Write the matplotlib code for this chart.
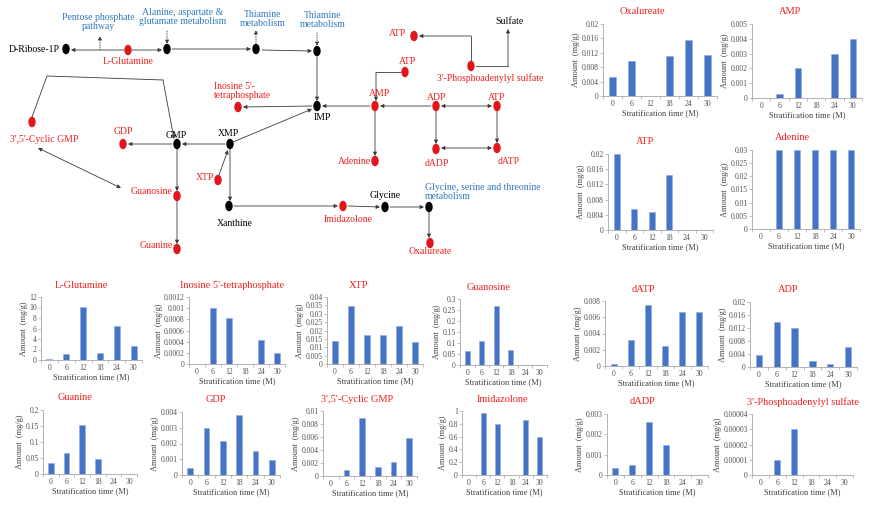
import numpy as np
import matplotlib.pyplot as plt
from matplotlib.patches import Ellipse

plt.rcParams['font.family'] = ['Liberation Serif', 'DejaVu Serif']

W, H = 874, 505

# stratification time (months)
times = ['0', '6', '12', '18', '24', '30']

# amounts (mg/g)
oxalureate = [0.0052, 0.0097, 0, 0.011, 0.0155, 0.0115]
amp = [0, 0.0003, 0.002, 0, 0.003, 0.004]
atp = [0.02, 0.0055, 0.0047, 0.0145, 0, 0]
adenine = [0, 0.03, 0.03, 0.03, 0.03, 0.03]
glutamine = [0.2, 1.2, 10.1, 1.4, 6.5, 2.6]
inosine_tp = [0, 0.001, 0.00082, 0, 0.00043, 0.0002]
xtp = [0.014, 0.0345, 0.0173, 0.0173, 0.0228, 0.0133]
guanosine = [0.062, 0.108, 0.268, 0.067, 0, 0]
datp = [0.0002, 0.0032, 0.0075, 0.0025, 0.0066, 0.0067]
adp = [0.0037, 0.0138, 0.0119, 0.0019, 0.0008, 0.0063]
guanine = [0.035, 0.066, 0.152, 0.047, 0, 0]
gdp = [0.00045, 0.003, 0.00215, 0.0038, 0.0015, 0.00095]
cyclic_gmp = [0, 0.001, 0.0089, 0.0014, 0.0022, 0.0059]
imidazolone = [0, 0.97, 0.79, 0, 0.86, 0.6]
dadp = [0.00033, 0.00047, 0.0026, 0.0015, 0.00002, 0]
paps = [0, 0.00001, 0.00003, 0, 0, 0]

# (title, values, y max, y step)
charts = [
    ("Oxalureate", oxalureate, 0.02, 0.004),
    ("AMP", amp, 0.005, 0.001),
    ("ATP", atp, 0.02, 0.004),
    ("Adenine", adenine, 0.03, 0.005),
    ("L-Glutamine", glutamine, 12, 2),
    ("Inosine 5'-tetraphosphate", inosine_tp, 0.0012, 0.0002),
    ("XTP", xtp, 0.04, 0.005),
    ("Guanosine", guanosine, 0.3, 0.05),
    ("dATP", datp, 0.008, 0.002),
    ("ADP", adp, 0.02, 0.004),
    ("Guanine", guanine, 0.2, 0.05),
    ("GDP", gdp, 0.004, 0.001),
    ("3',5'-Cyclic GMP", cyclic_gmp, 0.01, 0.002),
    ("Imidazolone", imidazolone, 1, 0.2),
    ("dADP", dadp, 0.003, 0.001),
    ("3'-Phosphoadenylyl sulfate", paps, 0.00004, 0.00001),
]

# axes boxes in pixels (left, top, right, bottom) and title centres
boxes = [
    (603, 24, 717, 96), (752, 24, 862, 98),
    (608, 154, 713, 230), (752, 150, 860, 229),
    (41, 297, 142, 360), (189, 297, 285, 364), (327, 297, 423, 364), (460, 299, 547, 365),
    (605, 301, 708, 366), (750, 302, 857, 367),
    (43, 410, 137, 474), (182, 412, 280, 475), (323, 411, 417, 476), (462, 411, 547, 475),
    (607, 414, 708, 475), (752, 414, 853, 475),
]
title_pos = [
    (642, 12), (790, 12), (645, 141), (792, 138),
    (81, 285), (232, 285), (358, 285), (489, 288), (643, 289), (788, 289),
    (75, 398), (216, 400), (357, 400), (502, 400), (643, 402), (803, 402),
]

RED = '#F01E1E'
NODE_RED = '#E3151B'
BLUE = '#2F78C0'
BAR = '#4472C4'
LINE = '#3A3A3A'


def fmt(v):
    return f"{v:.6f}".rstrip('0').rstrip('.')


fig = plt.figure(figsize=(W / 100, H / 100), dpi=100)

# ---- pathway diagram ----
dg = fig.add_axes([0, 0, 1, 1])
dg.set_xlim(0, W)
dg.set_ylim(H, 0)
dg.axis('off')


def arrow(p0, p1, style='-|>', ls='-'):
    dg.annotate('', xy=p1, xytext=p0,
                arrowprops=dict(arrowstyle=style, color=LINE, lw=0.6, linestyle=ls,
                                shrinkA=0, shrinkB=0, mutation_scale=5.5))


def line(*pts):
    xs, ys = zip(*pts)
    dg.plot(xs, ys, color=LINE, lw=0.6)


black_nodes = [(66, 49), (167, 49), (256, 49), (317, 51), (317, 106), (230, 144),
               (177, 144), (229, 206), (385, 207), (429, 207)]
red_nodes = [(128, 50), (238, 107), (123, 144), (32, 122), (177, 196), (177, 249),
             (218, 180), (343, 206), (430, 243), (375, 106), (405, 72), (436, 106),
             (497, 106), (436, 149), (497, 148), (375, 161), (471, 66), (414, 36)]
for x, y in black_nodes:
    dg.add_patch(Ellipse((x, y), 6, 9, color='black', zorder=3))
for x, y in red_nodes:
    dg.add_patch(Ellipse((x, y), 6, 9, color=NODE_RED, zorder=3))

labels = [
    ("D-Ribose-1P", 60, 50, 'black', 'right'),
    ("L-Glutamine", 128, 62, RED, 'center'),
    ("Pentose phosphate\npathway", 98, 22, BLUE, 'center'),
    ("Alanine, aspartate &\nglutamate metabolism", 183, 17, BLUE, 'center'),
    ("Thiamine\nmetabolism", 263, 19, BLUE, 'center'),
    ("Thiamine\nmetabolism", 323, 20, BLUE, 'center'),
    ("Inosine 5'-\ntetraphosphate", 214, 91, RED, 'left'),
    ("IMP", 322, 118, 'black', 'center'),
    ("XMP", 228, 133, 'black', 'center'),
    ("GMP", 176, 135, 'black', 'center'),
    ("GDP", 123, 132, RED, 'center'),
    ("3',5'-Cyclic GMP", 44, 139, RED, 'center'),
    ("XTP", 205, 177, RED, 'center'),
    ("Guanosine", 152, 191, RED, 'center'),
    ("Guanine", 156, 245, RED, 'center'),
    ("Xanthine", 235, 223, 'black', 'center'),
    ("Imidazolone", 348, 219, RED, 'center'),
    ("Glycine", 385, 196, 'black', 'center'),
    ("Glycine, serine and threonine\nmetabolism", 425, 192, BLUE, 'left'),
    ("Oxalureate", 430, 252, RED, 'center'),
    ("AMP", 380, 94, RED, 'center'),
    ("ATP", 408, 61, RED, 'center'),
    ("ADP", 437, 97, RED, 'center'),
    ("ATP", 497, 97, RED, 'center'),
    ("dADP", 437, 164, RED, 'center'),
    ("dATP", 509, 162, RED, 'center'),
    ("Adenine", 354, 162, RED, 'center'),
    ("3'-Phosphoadenylyl sulfate", 490, 78, RED, 'center'),
    ("ATP", 398, 34, RED, 'center'),
    ("Sulfate", 510, 22, 'black', 'center'),
]
for txt, x, y, c, ha in labels:
    dg.text(x, y, txt, color=c, ha=ha, va='center', fontsize=7, linespacing=1.0)

arrow((124, 50), (71, 50))
arrow((100, 50), (100, 36), ls=':')
arrow((132, 50), (162, 50))
arrow((167, 31), (167, 44), ls=':')
arrow((172, 49), (251, 49))
arrow((256, 44), (256, 30), ls=':')
arrow((262, 50), (312, 51))
arrow((317, 33), (317, 46), ls=':')
arrow((317, 56), (317, 101))
arrow((370, 106), (322, 106))
arrow((233, 142), (312, 109))
arrow((312, 106), (243, 107))
arrow((225, 144), (182, 144))
arrow((172, 144), (128, 144))
line((32, 117), (47, 76), (163, 80))
arrow((163, 80), (174, 139))
arrow((38, 148), (121, 188), style='<|-|>')
arrow((177, 149), (177, 191))
arrow((177, 201), (177, 244))
arrow((219, 175), (228, 150))
arrow((230, 149), (230, 201))
arrow((234, 206), (338, 206))
arrow((348, 206), (380, 207))
arrow((390, 207), (424, 207))
arrow((429, 212), (429, 238))
line((400, 72), (376, 72))
arrow((376, 72), (376, 101))
arrow((431, 106), (380, 106))
arrow((441, 106), (492, 106), style='<|-|>')
arrow((436, 111), (436, 144))
arrow((497, 111), (497, 143))
arrow((441, 148), (492, 148), style='<|-|>')
arrow((375, 111), (375, 156))
line((471, 61), (471, 36))
arrow((471, 36), (419, 36))
line((476, 66), (508, 66))
arrow((508, 66), (508, 29))

# ---- bar charts ----
x = np.arange(len(times))
for (title, vals, ymax, step), (l, t, r, b), (tx, ty) in zip(charts, boxes, title_pos):
    ax = fig.add_axes([l / W, 1 - b / H, (r - l) / W, (b - t) / H])
    ax.bar(x, vals, width=0.35, color=BAR, edgecolor='#8EA9DB', linewidth=0.4)
    ax.set_xlim(-0.5, len(times) - 0.5)
    ax.set_ylim(0, ymax)
    yt = np.arange(0, ymax + step / 2, step)
    ax.set_yticks(yt)
    ax.set_yticklabels([fmt(v) for v in yt])
    ax.set_xticks(x)
    ax.set_xticklabels(times)
    ax.set_xticks(np.arange(-0.5, len(times), 1), minor=True)
    ax.tick_params(axis='x', which='major', length=0, pad=3)
    ax.tick_params(axis='x', which='minor', length=2, color='#A6A6A6', width=0.5)
    ax.tick_params(axis='y', length=2, color='#A6A6A6', width=0.5, pad=1)
    ax.tick_params(labelsize=5.5, labelcolor='#505050')
    for s in ['top', 'right']:
        ax.spines[s].set_visible(False)
    for s in ['left', 'bottom']:
        ax.spines[s].set_color('#A6A6A6')
        ax.spines[s].set_linewidth(0.6)
    ax.set_ylabel('Amount  (mg/g)', fontsize=6, color='#404040', labelpad=1)
    ax.set_xlabel('Stratification time (M)', fontsize=6, color='#404040', labelpad=1)
    fig.text(tx / W, 1 - ty / H, title, color=RED, fontsize=7.5, ha='center', va='center')

fig.savefig('out.png', dpi=100)
